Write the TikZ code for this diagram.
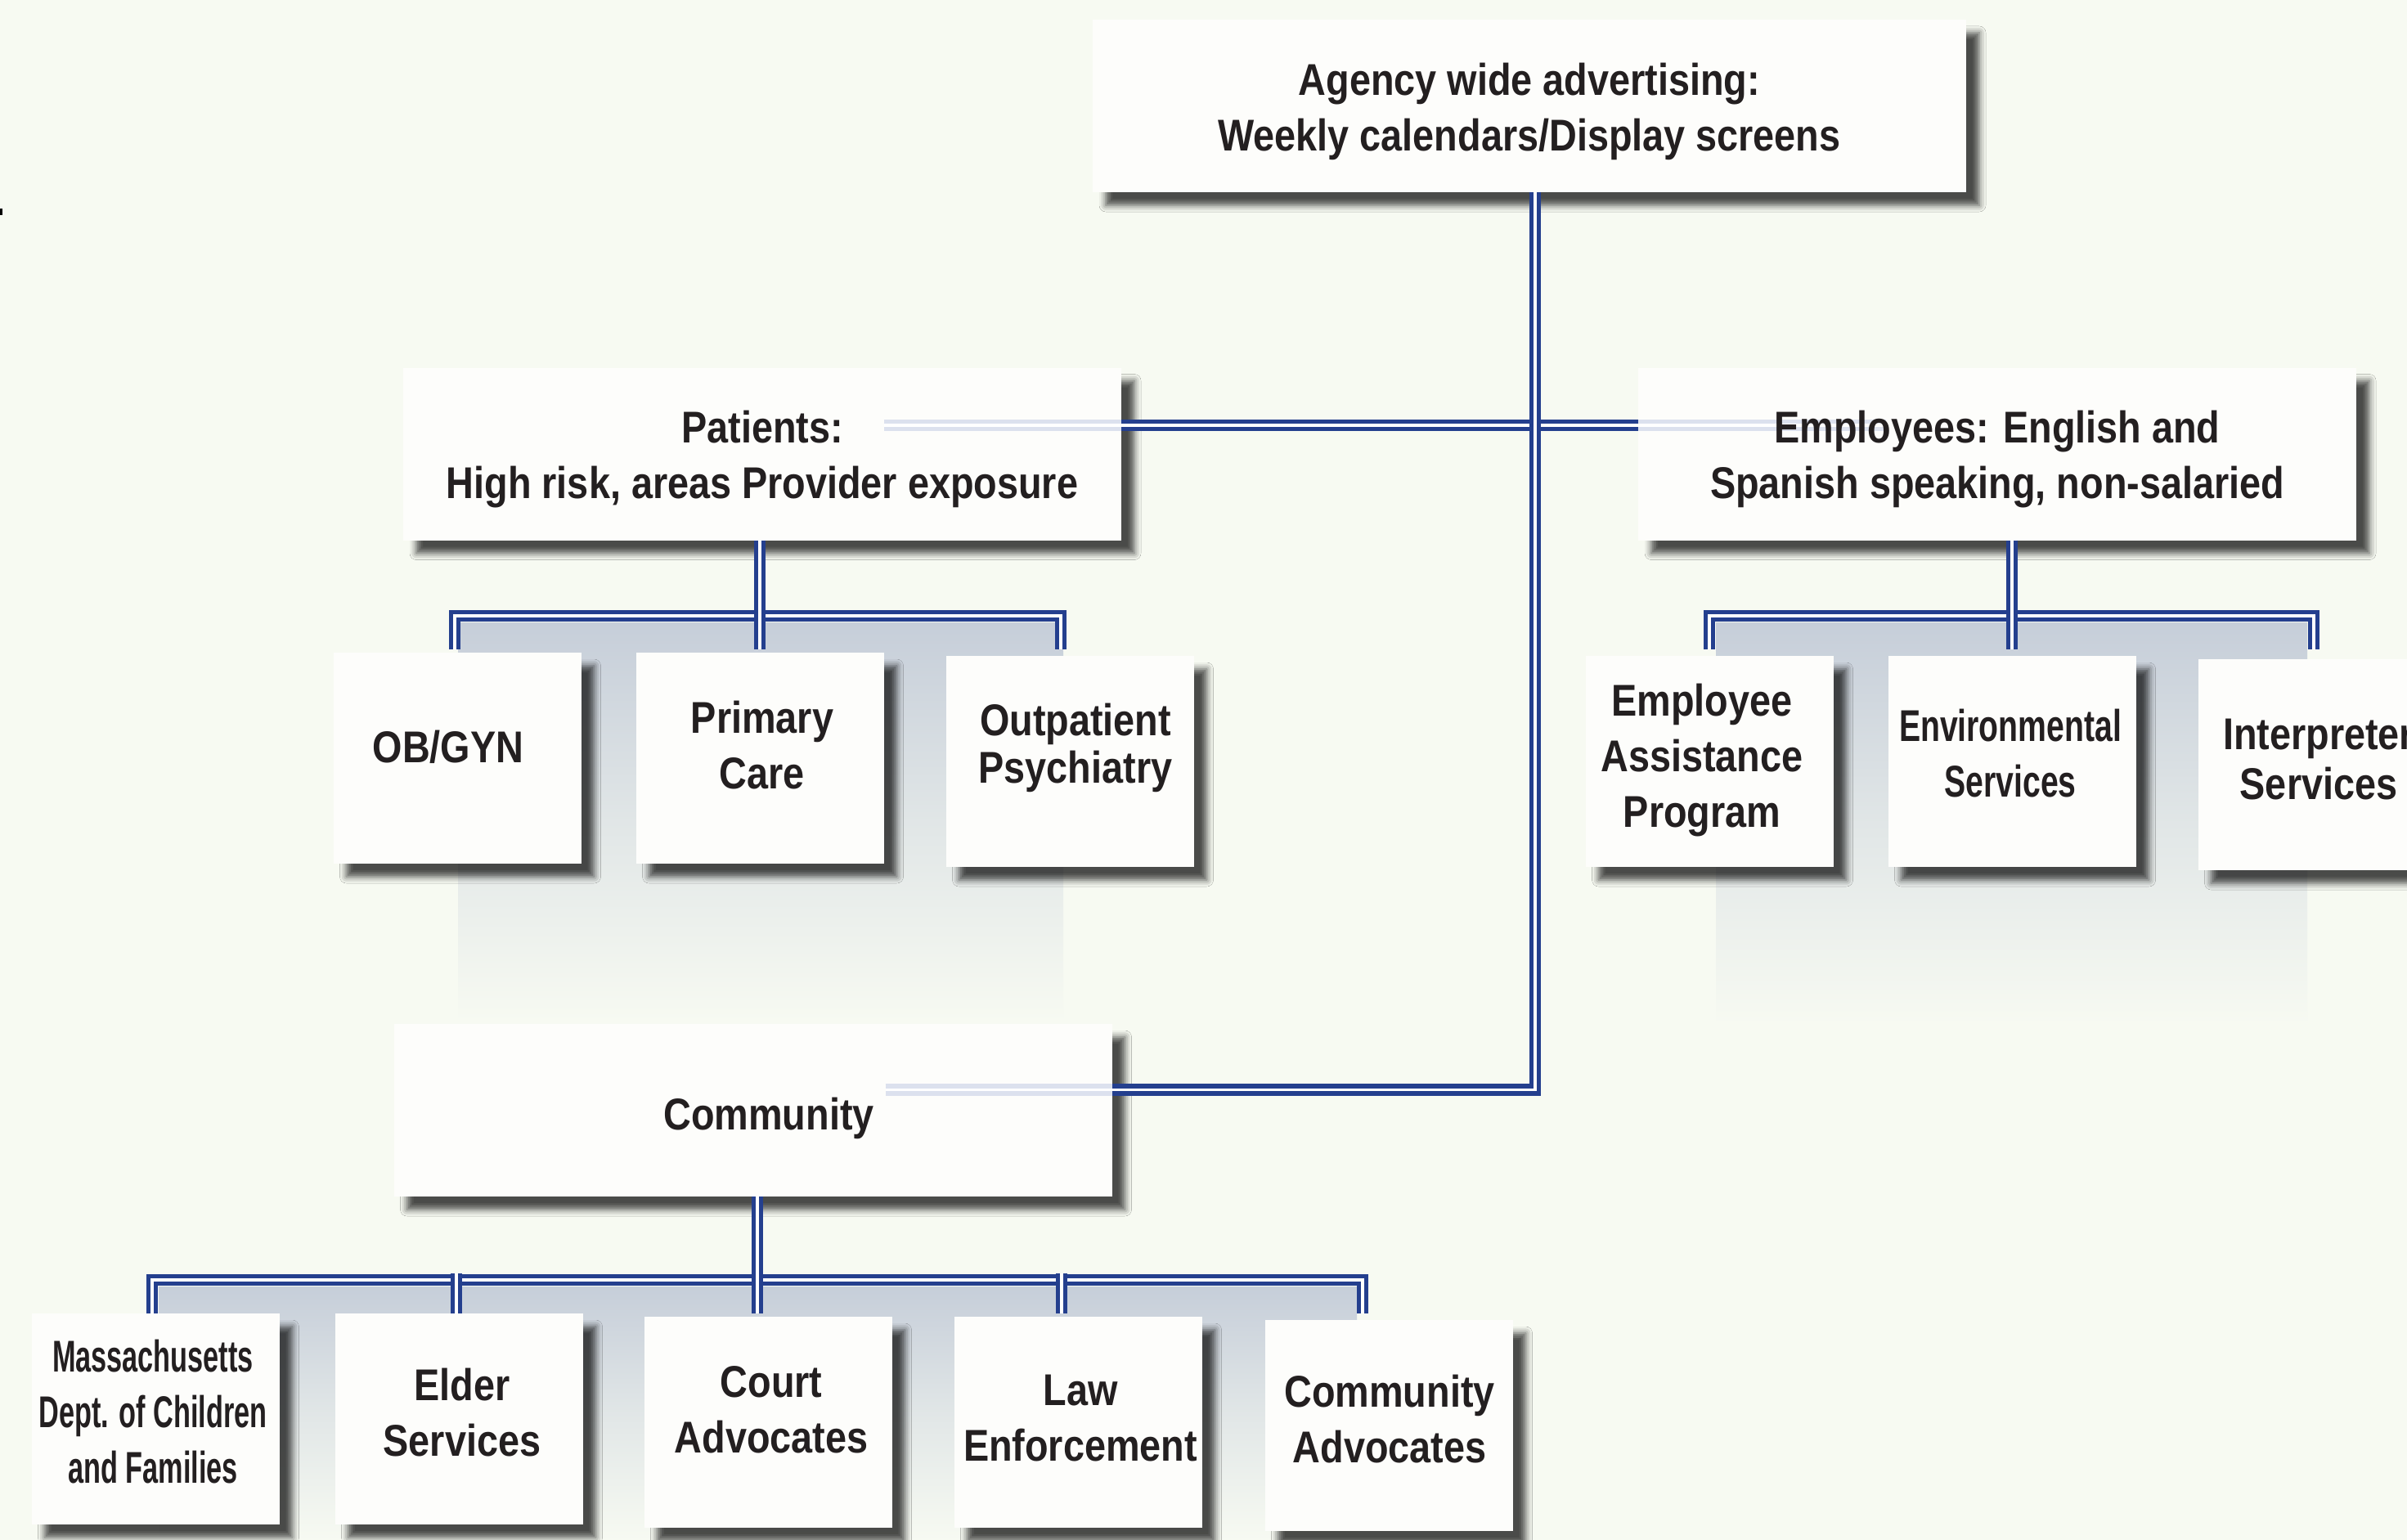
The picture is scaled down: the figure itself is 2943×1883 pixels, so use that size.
\documentclass[tikz,border=0pt]{standalone}
\usepackage{fontspec}
\setmainfont{Liberation Sans}
\newfontfamily\lblfont{Liberation Sans}[FakeStretch=0.86]
\newfontfamily\lblfontn{Liberation Sans}[FakeStretch=0.72]
\newfontfamily\lblfontm{Liberation Sans}[FakeStretch=0.63]
\usetikzlibrary{shadows.blur}
\definecolor{bgc}{HTML}{F7FAF2}
\definecolor{bandc}{HTML}{C6CED9}
\definecolor{boxc}{HTML}{FDFDFB}
\definecolor{connc}{HTML}{243F8E}
\definecolor{faintc}{HTML}{DCE1EE}
\definecolor{txtc}{HTML}{231F20}
\tikzset{
  box/.style={fill=boxc, draw=none, outer sep=0pt, inner sep=0pt,
    blur shadow={shadow xshift=4pt, shadow yshift=-4pt, shadow blur radius=2pt, shadow opacity=70}},
  bigbox/.style={box, minimum width=219.5pt, minimum height=52.75pt},
  smallbox/.style={box, minimum width=75.75pt, minimum height=64.5pt},
  lbl/.style={text=txtc, align=center, inner sep=0pt, font=\lblfont\bfseries\fontsize{13.6pt}{17pt}\selectfont},
  conn/.style={draw=connc, line width=1.35pt, double=white, double distance=0.9pt},
  faint/.style={draw=faintc, line width=1.35pt, double=white, double distance=0.9pt},
  band/.style={top color=bandc, bottom color=bgc, middle color=bgc!55!bandc}
}
\begin{document}
\begin{tikzpicture}[x=0.25pt,y=-0.25pt]
\fill[bgc] (0,0) rectangle (2943,1883);
\useasboundingbox (0,0) rectangle (2943,1883);
\clip (0,0) rectangle (2943,1883);
\fill[black] (0,255) rectangle (3,263);

% shaded bands behind brackets
\shade[band] (560,761) rectangle (1300,1250);
\shade[band] (2098,761) rectangle (2821,1254);
\shade[band] (194,1573) rectangle (1659,1883);

% boxes
\node[box, minimum width=267pt, minimum height=52.75pt] (agency) at (1870,129.5) {};
\node[bigbox] (patients) at (932,555) {};
\node[bigbox] (employees) at (2442,555) {};
\node[bigbox] (community) at (920.5,1357.5) {};

\node[smallbox] (obgyn) at (559,927) {};
\node[smallbox] (primary) at (929,927) {};
\node[smallbox] (outpt) at (1308,931) {};

\node[smallbox] (eap) at (2090,931) {};
\node[smallbox] (env) at (2460,931) {};
\node[smallbox] (interp) at (2839,935) {};

\node[smallbox] (mass) at (190,1735) {};
\node[smallbox] (elder) at (561,1735) {};
\node[smallbox] (court) at (939,1739) {};
\node[smallbox] (law) at (1318,1739) {};
\node[smallbox] (cadv) at (1698,1743) {};

% connectors
\draw[conn] ([yshift=8.75pt]patients.east) -- ([yshift=8.75pt]employees.west);
\draw[conn] ([xshift=1.75pt]agency.south) |- ([yshift=6.25pt]community.east);

\draw[conn] ([xshift=-0.75pt,yshift=1pt]obgyn.north) -- ++(0,-41) -| ([xshift=-2.75pt,yshift=2pt]outpt.north);
\draw[conn] (primary.north |- patients.south) -- ([yshift=1pt]primary.north);

\draw[conn] ([yshift=2pt]eap.north) -- ++(0,-41) -| ([xshift=-2.5pt,yshift=3pt]interp.north);
\draw[conn] (env.north |- employees.south) -- ([yshift=2pt]env.north);

\draw[conn] ([xshift=-1pt]mass.north) -- ++(0,-41) -| ([xshift=-8pt,yshift=2pt]cadv.north);
\draw[conn] ([xshift=-0.75pt]elder.north) -- ++(0,-49);
\draw[conn] ([xshift=-5pt,yshift=1pt]law.north) -- ++(0,-49);
\draw[conn] ([xshift=-3.25pt]court.north |- community.south) -- ([xshift=-3.25pt,yshift=1pt]court.north);

% faint continuations inside boxes
\draw[faint] ([xshift=-72.5pt,yshift=8.75pt]patients.east) -- ([yshift=8.75pt]patients.east);
\draw[faint] ([yshift=8.75pt]employees.west) -- ([xshift=75.75pt,yshift=8.75pt]employees.west);
\draw[faint] ([xshift=-69.25pt,yshift=6.25pt]community.east) -- ([yshift=6.25pt]community.east);

% labels
\node[lbl] (agency-t) at (1870,136) {Agency wide advertising:\\Weekly calendars/Display screens};
\node[lbl] (patients-t) at (932,561.5) {Patients:\\High risk, areas Provider exposure};
\node[lbl] (employees-t) at (2442,561.5) {Employees: English and\\Spanish speaking, non-salaried};
\node[lbl] (community-t) at (940,1367.5) {Community};

\node[lbl] (obgyn-t) at (548,913) {OB/GYN};
\node[lbl] (primary-t) at (932,911) {Primary\\Care};
\node[lbl, font=\lblfont\bfseries\fontsize{13.6pt}{14.5pt}\selectfont] (outpt-t) at (1315,914.5) {Outpatient\\Psychiatry};

\node[lbl] (eap-t) at (2081,929.5) {Employee\\Assistance\\Program};
\node[lbl, font=\lblfontn\bfseries\fontsize{13.6pt}{17pt}\selectfont] (env-t) at (2458,921.5) {Environmental\\Services};
\node[lbl, font=\lblfont\bfseries\fontsize{13.6pt}{15.25pt}\selectfont] (interp-t) at (2835,928.5) {Interpreter\\Services};

\node[lbl, font=\lblfontm\bfseries\fontsize{13.6pt}{17pt}\selectfont] (mass-t) at (187,1726.5) {Massachusetts\\Dept. of Children\\and Families};
\node[lbl] (elder-t) at (565,1727.5) {Elder\\Services};
\node[lbl] (court-t) at (943,1724) {Court\\Advocates};
\node[lbl] (law-t) at (1321,1734.5) {Law\\Enforcement};
\node[lbl] (cadv-t) at (1699,1735) {Community\\Advocates};
\end{tikzpicture}
\end{document}
